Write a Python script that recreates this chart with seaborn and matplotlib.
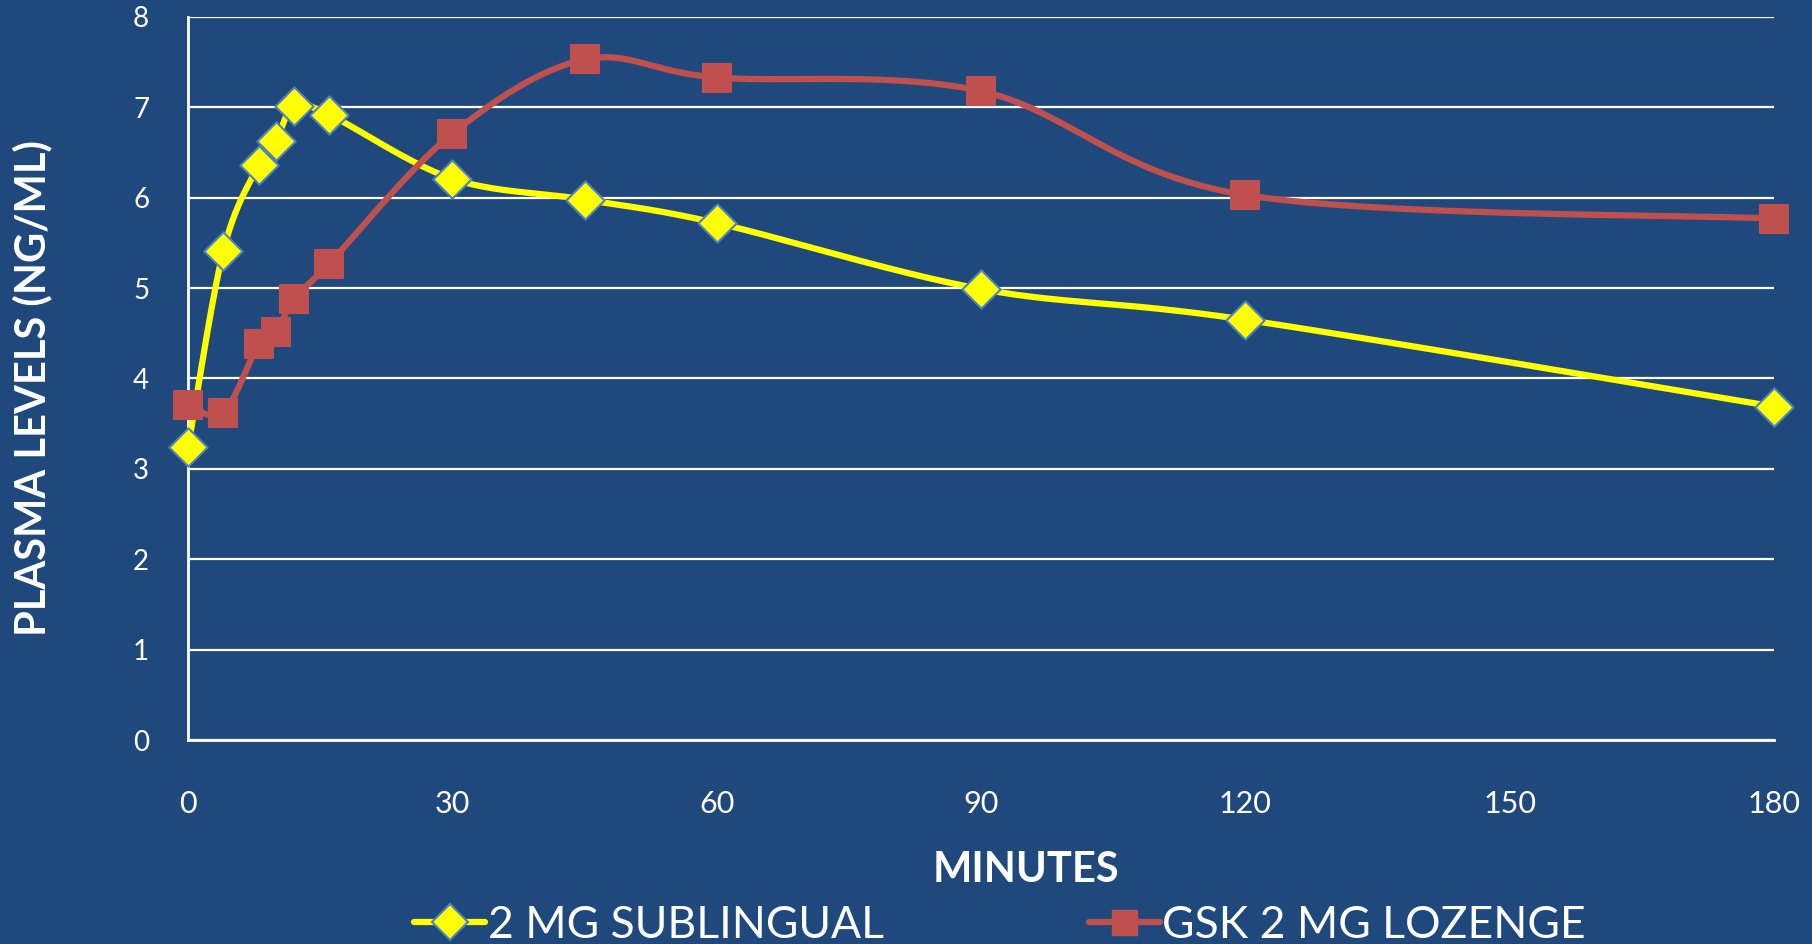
import numpy as np
import pandas as pd
import matplotlib
matplotlib.use("Agg")
import matplotlib.pyplot as plt
from matplotlib.lines import Line2D
from matplotlib.ticker import MultipleLocator
import seaborn as sns

minutes = [0, 4, 8, 10, 12, 16, 30, 45, 60, 90, 120, 180]
sublingual = [3.24, 5.41, 6.36, 6.63, 7.01, 6.92, 6.21, 5.98, 5.72, 4.99, 4.65, 3.69]
lozenge = [3.71, 3.62, 4.38, 4.51, 4.88, 5.27, 6.71, 7.53, 7.33, 7.18, 6.03, 5.77]
series_names = ["2 MG SUBLINGUAL", "GSK 2 MG LOZENGE"]
x_ticks = [0, 30, 60, 90, 120, 150, 180]
y_ticks = [0, 1, 2, 3, 4, 5, 6, 7, 8]

BG = "#1F497D"
YEL = "#FFFF00"
RED = "#C0504D"
EDGE = "#4F81BD"

sns.set_theme(style="white")
plt.rcParams["font.family"] = ["Lato", "DejaVu Sans"]


def smooth(xs, ys, n=40):
    # Excel-style smoothed line (Bezier with 1/6 neighbour tangents)
    xs = np.asarray(xs, float)
    ys = np.asarray(ys, float)
    P = np.column_stack([xs, ys])
    out = []
    for i in range(len(P) - 1):
        p0 = P[i - 1] if i > 0 else P[i]
        p1 = P[i]
        p2 = P[i + 1]
        p3 = P[i + 2] if i + 2 < len(P) else P[i + 1]
        c1 = p1 + (p2 - p0) / 6.0
        c2 = p2 - (p3 - p1) / 6.0
        t = np.linspace(0, 1, n)[:, None]
        seg = ((1 - t) ** 3) * p1 + 3 * ((1 - t) ** 2) * t * c1 + 3 * (1 - t) * t ** 2 * c2 + t ** 3 * p2
        out.append(seg if i == 0 else seg[1:])
    seg = np.vstack(out)
    return seg[:, 0], seg[:, 1]


fig = plt.figure(figsize=(18.12, 9.44), dpi=100, facecolor=BG)
ax = fig.add_axes([0.1038, 0.2161, 0.979 - 0.1038, 0.982 - 0.2161])
ax.set_facecolor(BG)

for vals, col, mk, ms, name in [
    (sublingual, YEL, "D", 380, series_names[0]),
    (lozenge, RED, "s", 420, series_names[1]),
]:
    sx, sy = smooth(minutes, vals)
    cdf = pd.DataFrame({"x": sx, "y": sy})
    sns.lineplot(data=cdf, x="x", y="y", ax=ax, color=col, linewidth=4.5,
                 sort=False, estimator=None, zorder=3)
    pdf = pd.DataFrame({"x": minutes, "y": vals})
    sns.scatterplot(data=pdf, x="x", y="y", ax=ax, color=col, marker=mk, s=ms,
                    edgecolor=EDGE if mk == "D" else RED, linewidth=1.5, zorder=4)

for art in ax.collections + ax.lines:
    art.set_clip_on(False)

ax.set_xlim(0, 180)
ax.set_ylim(0, 8)
ax.set_xticks(x_ticks)
ax.xaxis.set_minor_locator(MultipleLocator(5))
ax.set_yticks(y_ticks)
ax.grid(axis="y", color="white", linewidth=1.6)
ax.set_axisbelow(True)
for s in ["top", "right"]:
    ax.spines[s].set_visible(False)
for s in ["left", "bottom"]:
    ax.spines[s].set_color("white")
    ax.spines[s].set_linewidth(2)
ax.tick_params(axis="x", which="major", direction="in", length=11, width=1.6,
               color="white", labelcolor="white", labelsize=22, pad=36)
ax.tick_params(axis="x", which="minor", direction="in", length=8, width=1.6,
               color="white")
ax.tick_params(axis="y", which="major", length=0, labelcolor="white",
               labelsize=20, pad=28)
ax.set_xlabel("")
ax.set_ylabel("")

fig.text(1026 / 1812, 1 - 870 / 944, "MINUTES", color="white", fontsize=30,
         fontweight="bold", ha="center", va="center")
fig.text(32 / 1812, 1 - 388 / 944, "PLASMA LEVELS (NG/ML)", color="white",
         fontsize=30, fontweight="bold", ha="center", va="center", rotation=90)

handles = [
    Line2D([], [], color=YEL, linewidth=4.5, marker="D", markersize=18,
           markerfacecolor=YEL, markeredgecolor=EDGE, markeredgewidth=1.5),
    Line2D([], [], color=RED, linewidth=4.5, marker="s", markersize=18,
           markerfacecolor=RED, markeredgecolor=RED),
]
fig.legend(handles, series_names, loc="center", bbox_to_anchor=(1000 / 1812, 1 - 925 / 944),
           ncol=2, frameon=False, fontsize=32, labelcolor="white",
           handlelength=1.6, handletextpad=0.05, columnspacing=4.62)

fig.savefig("out.png", dpi=100, facecolor=BG)
